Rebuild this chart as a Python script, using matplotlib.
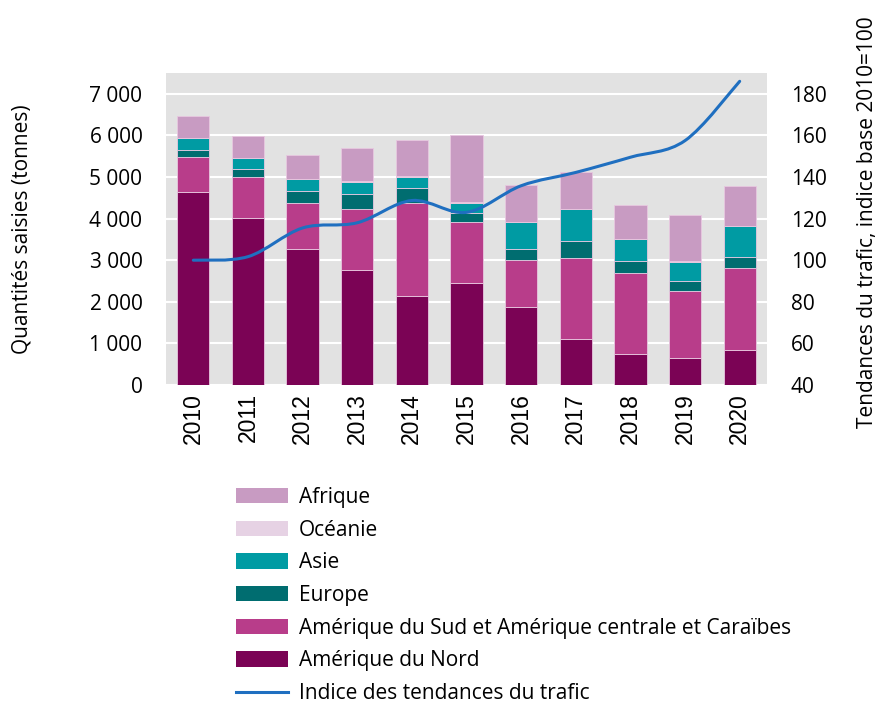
import numpy as np
import matplotlib
matplotlib.use('Agg')
import matplotlib.pyplot as plt
from matplotlib.path import Path
from matplotlib.patches import PathPatch, Patch
from matplotlib.lines import Line2D
from matplotlib.ticker import FuncFormatter

# Données (tonnes)
annees = ['2010', '2011', '2012', '2013', '2014', '2015', '2016', '2017', '2018', '2019', '2020']
amerique_nord = [4640, 4015, 3280, 2760, 2130, 2445, 1865, 1100, 740, 650, 830]
amerique_sud = [830, 975, 1105, 1480, 2255, 1485, 1128, 1955, 1947, 1610, 1980]
europe = [170, 195, 280, 355, 345, 195, 273, 418, 282, 240, 265]
asie = [290, 265, 280, 295, 280, 255, 642, 746, 529, 465, 747]
oceanie = [10, 10, 10, 10, 10, 10, 10, 10, 10, 10, 10]
afrique = [535, 530, 565, 805, 870, 1620, 885, 902, 829, 1100, 957]
indice = [100, 101.7, 115.5, 118, 128.7, 123, 135.8, 142.2, 149.5, 157.5, 186]

couleurs = {
    'Amérique du Nord': '#7B0355',
    'Amérique du Sud et Amérique centrale et Caraïbes': '#B83D8A',
    'Europe': '#006D70',
    'Asie': '#009BA3',
    'Océanie': '#E6D2E4',
    'Afrique': '#C89BC2',
}
couleur_ligne = '#1F6FC0'

plt.rcParams['font.family'] = ['Open Sans', 'DejaVu Sans']

fig = plt.figure(figsize=(8.79, 7.04), dpi=100)
ax = fig.add_axes([166 / 879, 1 - 385 / 704, 601 / 879, 312 / 704])
ax.set_facecolor('#E2E2E2')

x = np.arange(len(annees))
series = [
    ('Amérique du Nord', amerique_nord),
    ('Amérique du Sud et Amérique centrale et Caraïbes', amerique_sud),
    ('Europe', europe),
    ('Asie', asie),
    ('Océanie', oceanie),
    ('Afrique', afrique),
]
bas = np.zeros(len(annees))
for nom, vals in series:
    ax.bar(x, vals, width=0.59, bottom=bas, color=couleurs[nom],
           edgecolor='#E8C8E0', linewidth=0.6, zorder=2)
    bas += np.array(vals)

ax.set_xlim(-0.5, len(annees) - 0.5)
ax.set_ylim(0, 7500)
ax.set_yticks(range(0, 7001, 1000))
ax.yaxis.set_major_formatter(FuncFormatter(lambda v, p: f'{int(v):,}'.replace(',', ' ')))
ax.grid(axis='y', color='white', linewidth=1.5, zorder=1)
ax.set_axisbelow(True)
ax.set_xticks(x)
ax.set_xticklabels(annees, rotation=90)
for lab in ax.get_xticklabels():
    lab.set_fontfamily(['Liberation Sans', 'DejaVu Sans'])
    lab.set_fontsize(16.5)
ax.tick_params(axis='x', length=0, pad=6)
ax.tick_params(axis='y', length=0, pad=17, labelsize=15)
for s in ax.spines.values():
    s.set_visible(False)

# Axe secondaire : indice
ax2 = ax.twinx()
ax2.set_ylim(40, 190)
ax2.set_yticks(range(40, 181, 20))
ax2.tick_params(axis='y', length=0, pad=17, labelsize=15)
for s in ax2.spines.values():
    s.set_visible(False)

# courbe lissée (Bézier type Excel)
pts = np.column_stack([x, indice]).astype(float)
verts = [tuple(pts[0])]
codes = [Path.MOVETO]
n = len(pts)
for i in range(n - 1):
    p0 = pts[max(i - 1, 0)]
    p1 = pts[i]
    p2 = pts[i + 1]
    p3 = pts[min(i + 2, n - 1)]
    c1 = p1 + (p2 - p0) / 6
    c2 = p2 - (p3 - p1) / 6
    verts += [tuple(c1), tuple(c2), tuple(p2)]
    codes += [Path.CURVE4] * 3
ax2.add_patch(PathPatch(Path(verts, codes), facecolor='none', edgecolor=couleur_ligne,
                        linewidth=2.2, capstyle='round', zorder=3))

fig.text(22 / 879, 1 - 229 / 704, 'Quantités saisies (tonnes)', rotation=90,
         ha='center', va='center', fontsize=15)
fig.text(868 / 879, 1 - 222 / 704, 'Tendances du trafic, indice base 2010=100', rotation=90,
         ha='center', va='center', fontsize=15)

ordre = ['Afrique', 'Océanie', 'Asie', 'Europe',
         'Amérique du Sud et Amérique centrale et Caraïbes', 'Amérique du Nord']
handles = [Patch(facecolor=couleurs[k], edgecolor='none') for k in ordre]
handles.append(Line2D([], [], color=couleur_ligne, linewidth=2.2))
labels = ordre + ['Indice des tendances du trafic']
fig.legend(handles, labels, loc='upper left', bbox_to_anchor=(236 / 879, 1 - 487 / 704),
           frameon=False, fontsize=15, handlelength=2.5, handleheight=0.75,
           handletextpad=0.53, labelspacing=0.56, borderaxespad=0, borderpad=0)

fig.savefig('out.png', dpi=100)
